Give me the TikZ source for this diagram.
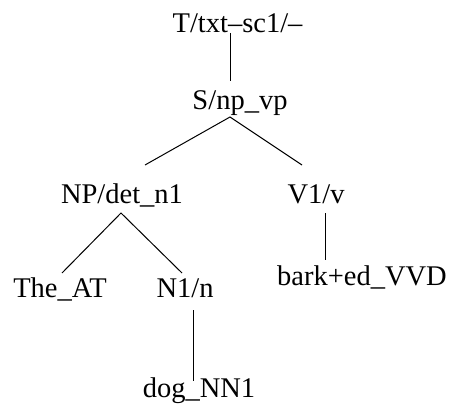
\documentclass[tikz,border=0pt]{standalone}
\usepackage{fontspec}
\setmainfont{Liberation Serif}
\begin{document}
\begin{tikzpicture}[x=1pt,y=1pt,
  lbl/.style={anchor=base,inner sep=0pt,font=\fontsize{28.5}{34}\selectfont},
  edge/.style={line width=1pt}]
\useasboundingbox (0,0) rectangle (449,410);
\node[lbl] (T) at (237.5,377) {T/txt--sc1/--};
\node[lbl] (S) at (240,300) {S/np\_vp};
\node[lbl] (NP) at (122,207) {NP/det\_n1};
\node[lbl] (V1) at (316,207) {V1/v};
\node[lbl] (The) at (60,113) {The\_AT};
\node[lbl] (N1) at (185,113) {N1/n};
\node[lbl] (bark) at (362,125) {bark+ed\_VVD};
\node[lbl] (dog) at (199,13) {dog\_NN1};
% connector ends
\coordinate (Tb) at (230,377);
\coordinate (St) at (230,329);
\coordinate (Sb) at (230,293);
\coordinate (NPt) at (145,245);
\coordinate (V1t) at (302,245);
\coordinate (NPb) at (121,197);
\coordinate (Thet) at (62,137);
\coordinate (N1t) at (182,137);
\coordinate (V1b) at (325,197);
\coordinate (barkt) at (325,150);
\coordinate (N1b) at (193,100);
\coordinate (dogt) at (193,29);
\draw[edge] (Tb) -- (St);
\draw[edge] (NPt) -- (Sb) -- (V1t);
\draw[edge] (Thet) -- (NPb) -- (N1t);
\draw[edge] (V1b) -- (barkt);
\draw[edge] (N1b) -- (dogt);
\end{tikzpicture}
\end{document}
